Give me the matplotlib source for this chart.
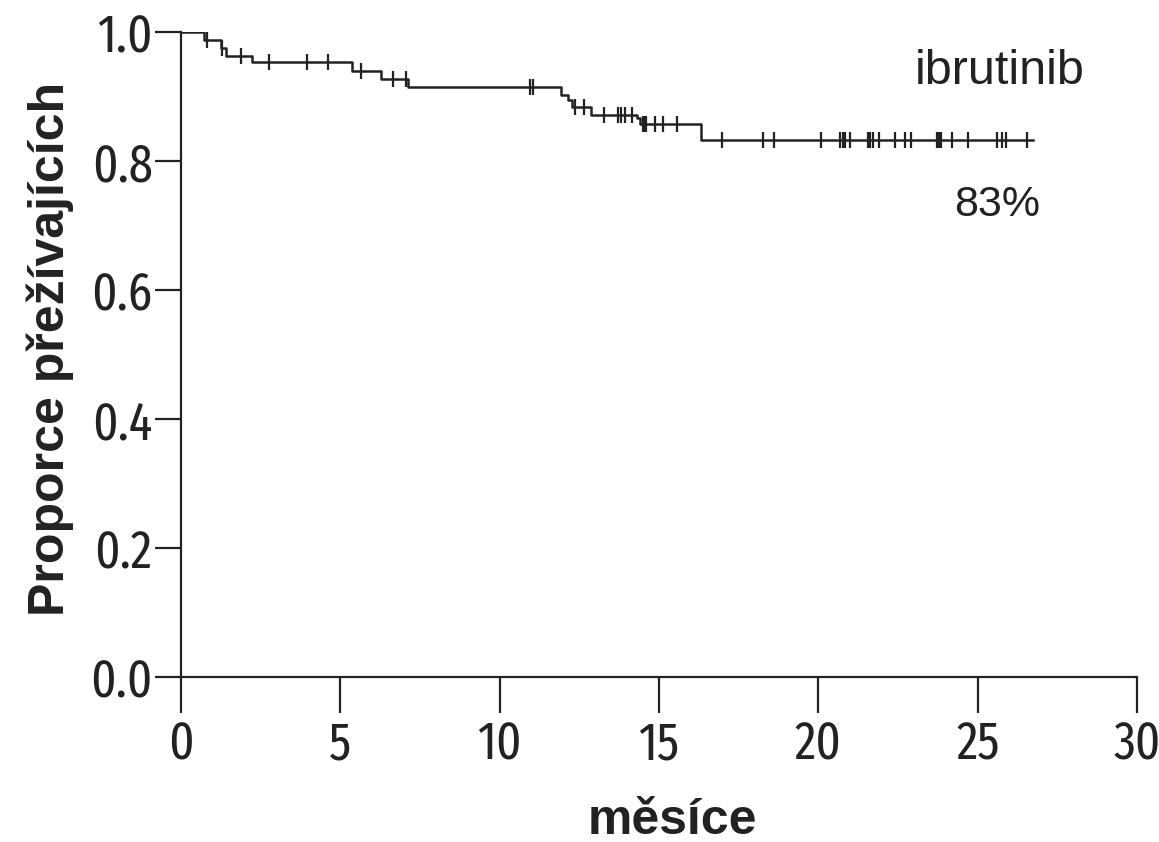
import matplotlib
matplotlib.use("Agg")
import matplotlib.pyplot as plt
from matplotlib import font_manager
import numpy as np

# Kaplan-Meier steps (months, survival proportion)
EVENT_TIMES = [0, 0.73, 1.25, 1.40, 2.24, 5.36, 6.28, 7.12, 11.93, 12.14,
               12.27, 12.85, 14.30, 14.40, 16.33, 26.73]
SURVIVAL = [1.0, 0.988, 0.975, 0.963, 0.953, 0.940, 0.927, 0.914, 0.902, 0.894,
            0.883, 0.871, 0.866, 0.858, 0.833, 0.833]

# censored observations (months)
CENSOR_TIMES = [0.82, 1.30, 1.89, 2.76, 3.94, 4.60, 5.64, 6.65, 7.06, 10.96,
                11.05, 12.35, 12.63, 13.28, 13.70, 13.81, 13.93, 14.15, 14.50,
                14.55, 14.60, 14.87, 15.11, 15.57, 16.98, 18.26, 18.61, 20.08,
                20.67, 20.76, 20.83, 21.00, 21.56, 21.63, 21.71, 21.90, 22.39,
                22.73, 22.89, 23.71, 23.77, 23.85, 24.19, 24.68, 25.61, 25.75,
                25.90, 26.55]

X_TICKS = [0, 5, 10, 15, 20, 25, 30]
Y_TICKS = [0.0, 0.2, 0.4, 0.6, 0.8, 1.0]

GROUP_LABEL = "ibrutinib"
FINAL_LABEL = "83%"


def narrow_font():
    # pick the most condensed regular-weight font that is installed
    best = None
    for f in font_manager.fontManager.ttflist:
        name = f.name.lower()
        fname = f.fname.lower().replace("-", "").replace("_", "")
        st = f.stretch
        if isinstance(st, str):
            st = font_manager.stretch_dict.get(st, 500)
        if ("narrow" in name or "condensed" in fname or "narrow" in fname) and st == 500:
            st = 300
        if "extracondensed" in fname or "ultracondensed" in fname or "compressed" in fname:
            st = min(st, 150)
        if st >= 500:
            continue
        w = f.weight
        if isinstance(w, str):
            w = font_manager.weight_dict.get(w, 400)
        if w != 400 or f.style != "normal" or "mono" in name:
            continue
        if best is None or st < best[0]:
            best = (st, f.fname)
    if best is None:
        return font_manager.FontProperties(family="DejaVu Sans", size=26)
    return font_manager.FontProperties(fname=best[1], size=38)


def main() -> None:
    fig = plt.figure(figsize=(11.59, 8.42), dpi=100)
    ax = fig.add_axes([0.1562, 0.196, 0.8249, 0.766])

    t = np.array(EVENT_TIMES)
    s = np.array(SURVIVAL)
    ax.step(t, s, where="post", color="#222222", lw=1.8)

    ct = np.array(CENSOR_TIMES)
    idx = np.searchsorted(t, ct, side="right") - 1
    ax.plot(ct, s[idx], ls="none", marker="|", ms=11, mew=1.6, color="#222222")

    ax.set_xlim(0, 30)
    ax.set_ylim(0, 1.0)
    for side in ("top", "right"):
        ax.spines[side].set_visible(False)
    for side in ("left", "bottom"):
        ax.spines[side].set_linewidth(1.6)
        ax.spines[side].set_color("#222222")
    ax.spines["left"].set_bounds(0, 1.0)

    fp = narrow_font()
    ax.set_xticks(X_TICKS)
    ax.set_xticklabels([str(v) for v in X_TICKS], fontproperties=fp)
    ax.set_yticks(Y_TICKS)
    ax.set_yticklabels([f"{v:.1f}" for v in Y_TICKS], fontproperties=fp)
    ax.tick_params(axis="both", direction="out", width=1.6,
                   color="#222222", labelcolor="#222222")
    ax.tick_params(axis="x", length=26, pad=4)
    ax.tick_params(axis="y", length=19, pad=1.5)

    ax.text(25.7, 0.938, GROUP_LABEL, ha="center", va="center",
            family=["Liberation Sans", "DejaVu Sans"], fontsize=35, color="#222222")
    ax.text(25.6, 0.732, FINAL_LABEL, ha="center", va="center",
            family=["Liberation Sans", "DejaVu Sans"], fontsize=31, color="#222222")

    fig.text(0.043, 0.585, "Proporce přežívajících", rotation=90, ha="center",
             va="center", family=["Liberation Sans", "DejaVu Sans"],
             fontsize=36, fontweight="bold", color="#222222")
    fig.text(0.58, 0.025, "měsíce", ha="center", va="center",
             family=["Liberation Sans", "DejaVu Sans"],
             fontsize=36, fontweight="bold", color="#222222")

    fig.savefig("out.png", dpi=100)
    plt.close(fig)


if __name__ == "__main__":
    main()
